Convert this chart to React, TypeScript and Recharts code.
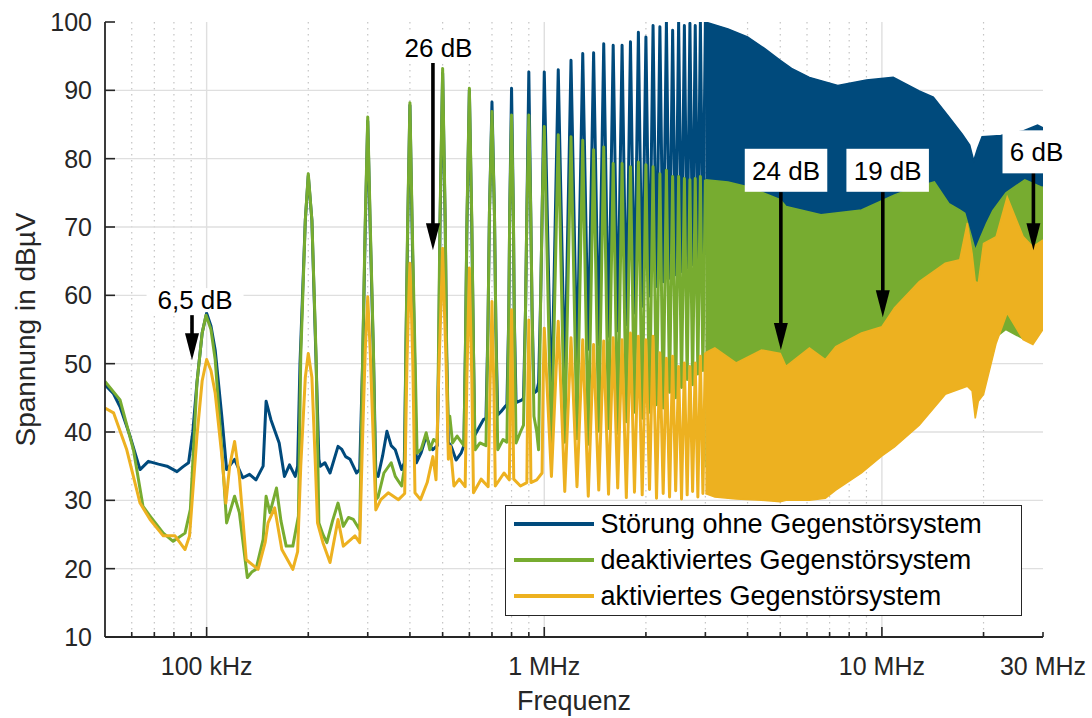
import React from 'react';
import {
  ComposedChart, Line, Area, XAxis, YAxis, CartesianGrid,
  ReferenceLine, ReferenceDot, Legend, Label,
} from 'recharts';

const FONT = '"Liberation Sans", Arial, Helvetica, sans-serif';
const INK = '#262626';

const SERIES_NAMES = [
  'Störung ohne Gegenstörsystem',
  'deaktiviertes Gegenstörsystem',
  'aktiviertes Gegenstörsystem',
];
const SERIES_COLORS = ['#004a7c', '#77ac30', '#edb120'];

// axes
const X_DOMAIN = [5e4, 3e7];
const X_TICKS = [6e4, 7e4, 8e4, 9e4, 1e5, 2e5, 3e5, 4e5, 5e5, 6e5, 7e5, 8e5, 9e5,
  1e6, 2e6, 3e6, 4e6, 5e6, 6e6, 7e6, 8e6, 9e6, 1e7, 2e7, 3e7];
const X_LABELED = [1e5, 1e6, 1e7, 3e7];
const X_LABELS = ['100 kHz', '1 MHz', '10 MHz', '30 MHz'];
const X_GRID_MAJOR = [1e5, 1e6, 1e7];
const X_GRID_MINOR = [6e4, 7e4, 8e4, 9e4, 2e5, 3e5, 4e5, 5e5, 6e5, 7e5, 8e5, 9e5,
  2e6, 3e6, 4e6, 5e6, 6e6, 7e6, 8e6, 9e6, 2e7];
const Y_DOMAIN = [10, 100];
const Y_TICKS = [10, 20, 30, 40, 50, 60, 70, 80, 90, 100];
const Y_GRID = [20, 30, 40, 50, 60, 70, 80, 90];

// 50 kHz .. 1 MHz, [kHz, dBµV]
const BLUE_LOW = [
  [50, 46.9], [53, 45.6], [55.4, 43.7], [59.3, 39.4], [63.5, 34.5], [67.2, 35.7], [72, 35.3],
  [76.3, 35.0], [81.7, 34.2], [85, 34.9], [88.4, 35.5], [91, 40], [93.6, 47.2], [97, 54.5],
  [100, 57.4], [103, 55.5], [106, 52.0], [110.9, 42.3], [114.6, 34.5], [121, 36.0], [128, 33.3],
  [134, 33.8], [140, 33.0], [147, 35.0], [150, 44.5], [155, 41.8], [164, 38.4], [170, 33.5],
  [176, 35.2], [183, 33.5], [186, 35], [189, 50], [196, 71], [200, 77.5], [205, 71], [211, 50],
  [215, 36], [217, 35.0], [224, 35.5], [232, 34.0], [245, 37.9], [251, 37.5], [258, 36.4],
  [266, 36.0], [278, 34.0], [284, 34.5], [290, 51], [295, 70], [300, 85.5], [305, 70], [312, 51],
  [317, 34], [322, 33.5], [332, 36.5], [342, 40.1], [352, 38.0], [362, 37.4], [378, 34.5],
  [385, 35.5], [389, 51], [394, 70], [400, 87.8], [406, 70], [413, 51], [418, 35.5], [432, 37.0],
  [447, 39.4], [458, 38.0], [467, 37.4], [482, 38], [487, 51], [491, 70], [500, 92.5], [509, 70],
  [514, 51], [520, 38.5], [530, 37.9], [548, 35.9], [567, 36.9], [578, 38], [584, 52], [590, 70],
  [600, 90.0], [610, 70], [617, 52], [622, 39.5], [635, 40.3], [660, 41.8], [672, 42], [681, 55],
  [688, 72], [700, 88.3], [712, 72], [719, 55], [728, 42.5], [745, 43.0], [768, 43.8], [775, 44],
  [785, 57], [790, 72], [800, 90.3], [810, 72], [815, 57], [825, 44.3], [860, 44.7], [868, 45],
  [880, 58], [888, 72], [900, 92.7], [912, 72], [920, 58], [932, 45.7], [950, 46], [962, 47.2],
  [976, 60], [987, 74], [1000, 92.7],
];
const GREEN_LOW = [
  [50, 47.4], [55.4, 44.7], [60.7, 37.4], [64.8, 29.1], [68, 27.7], [74.4, 25.2], [79.6, 24.0],
  [86.3, 25.2], [89.5, 28.7], [93.6, 47.2], [97, 54.5], [99.6, 57.1], [103, 55], [106, 50.6],
  [110.9, 37.4], [114.6, 26.7], [121, 30.6], [125, 28.2], [132, 18.7], [136, 19.5], [140, 19.9],
  [147, 24.3], [150, 30.6], [154, 28.2], [161, 31.8], [166, 27], [172, 23.3], [180, 23.3],
  [187, 27.7], [190, 51], [196, 71], [200, 77.8], [205, 71], [211, 51], [215, 26.7], [221, 25],
  [227, 23.8], [236, 27], [245, 29.6], [254, 26.2], [263, 27.5], [272, 27.2], [284, 25.7],
  [290, 51.6], [295, 71], [300, 86.1], [305, 71], [312, 51.6], [317, 30.1], [322, 30.5], [335, 34],
  [352, 35.5], [362, 33.5], [378, 32.1], [386, 35], [389, 51.6], [394, 71], [400, 88.2], [406, 71],
  [414, 51.6], [420, 36.9], [432, 37.5], [447, 39.9], [458, 37.4], [470, 38.9], [482, 38.5],
  [486, 51.6], [491, 71], [500, 93.2], [509, 71], [514, 51.6], [519, 42], [525, 42.3], [535, 38.4],
  [552, 39.4], [578, 38], [584, 52], [590, 71], [600, 90.3], [610, 71], [617, 52], [624, 37.4],
  [645, 38.4], [672, 38], [681, 55], [688, 72], [700, 86.9], [712, 72], [719, 55], [728, 37.4],
  [755, 38.9], [775, 38.5], [785, 57], [790, 72], [800, 86.4], [810, 72], [815, 57], [825, 38.4],
  [850, 40], [868, 41], [880, 58], [888, 72], [900, 86.4], [912, 72], [920, 58], [932, 42.3],
  [950, 40], [962, 37.4], [976, 60], [987, 74], [1000, 84.7],
];
const ORANGE_LOW = [
  [50, 43.5], [53, 42.8], [58, 37.4], [63.5, 29.6], [68, 27.2], [74.4, 24.8], [80.6, 24.8],
  [86.3, 22.8], [89, 24.8], [93.6, 39.4], [97, 47.5], [100, 50.6], [103, 49], [106, 45.7],
  [111, 36.4], [114, 29.6], [117, 35.0], [121, 38.6], [125, 33.5], [131, 21.3], [142, 19.9],
  [149, 23.8], [152, 26.7], [159, 28.9], [167, 22.8], [180, 19.9], [186, 22.5], [190, 35],
  [196, 48], [200, 51.5], [205, 48], [210, 35], [213, 26.7], [221, 23.8], [232, 20.9], [245, 27.2],
  [254, 23.3], [275, 24.8], [284, 23.8], [290, 40], [295, 52], [300, 59.8], [305, 52], [311, 40],
  [317, 28.6], [328, 30.1], [345, 31.1], [370, 30.1], [386, 31], [392, 50], [396, 58], [400, 64.7],
  [404, 58], [408, 50], [414, 31.1], [430, 30.1], [450, 32.6], [468, 36.4], [478, 33], [488, 50],
  [494, 58], [500, 66.9], [506, 58], [512, 50], [520, 36], [527, 37.9], [540, 32.1], [560, 33.1],
  [583, 32], [590, 48], [595, 56], [600, 64.0], [605, 56], [610, 48], [617, 31.1], [650, 33.1],
  [682, 32], [691, 47], [696, 53], [700, 59.1], [704, 53], [709, 47], [716, 32.1], [760, 34],
  [788, 33], [794, 47], [797, 52], [800, 57.9], [803, 52], [806, 47], [812, 33.1], [850, 32.1],
  [888, 32.6], [894, 47], [897, 51], [900, 56.4], [903, 51], [906, 47], [913, 32.6], [950, 33],
  [985, 34], [992, 47], [1000, 55.2],
];

// 1.05 .. 3 MHz: valleys between harmonics and harmonic peaks
const VALLEY_MHZ = [1.05, 1.15, 1.25, 1.35, 1.45, 1.55, 1.65, 1.75, 1.85, 1.95,
  2.05, 2.15, 2.25, 2.35, 2.45, 2.55, 2.65, 2.75, 2.85, 2.95];
const SPIKE_MHZ = [1.1, 1.2, 1.3, 1.4, 1.5, 1.6, 1.7, 1.8, 1.9, 2.0,
  2.1, 2.2, 2.3, 2.4, 2.5, 2.6, 2.7, 2.8, 2.9, 3.0];
const BLUE_VALLEYS = [43, 47.2, 49.6, 52.1, 52.8, 54.0, 54.8, 55.7, 57.4, 58.4,
  59.9, 61.3, 62.0, 62.5, 63.0, 63.5, 64.0, 64.5, 65.0, 66.0];
const BLUE_PEAKS = [93.0, 94.4, 95.4, 95.5, 96.8, 96.6, 96.6, 97.1, 98.5, 97.8,
  99.5, 99.3, 100, 98.8, 100, 99.5, 99.8, 99.5, 100, 100];
const GREEN_VALLEYS = [37.1, 38.5, 39.0, 38.2, 40.1, 40.5, 39.8, 41.5, 42.9, 42.0,
  42.9, 44.0, 43.5, 45.8, 45.0, 46.5, 47.7, 46.9, 48.5, 49.0];
const GREEN_PEAKS = [83.5, 83.2, 82.7, 81.3, 81.7, 79.3, 79.3, 78.8, 79.5, 79.1,
  78.8, 77.8, 78.3, 77.4, 77.4, 77.1, 76.9, 77.1, 77.4, 76.9];
const ORANGE_VALLEYS = [33.5, 31.3, 32.0, 30.6, 31.5, 30.9, 31.8, 30.4, 31.2, 30.8,
  31.6, 30.3, 31.0, 30.5, 31.4, 30.2, 30.8, 31.3, 30.5, 31.0];
const ORANGE_PEAKS = [56.2, 53.8, 53.5, 52.8, 53.3, 53.8, 53.5, 54.5, 54.0, 53.5,
  54.0, 51.6, 50.8, 51.1, 49.6, 50.1, 49.6, 50.1, 51.1, 51.6];

// 3 .. 30 MHz: the harmonics merge into a band, [low, high] envelope
const BLUE_BAND_MHZ = [3.0, 3.5, 4.0, 4.5, 5.0, 5.4, 6.1, 7.4, 9.0, 10.8, 12.9, 14.2, 15.8,
  17.3, 18.2, 18.7, 19.2, 19.8, 22.5, 26.3, 28.9, 30];
const BLUE_BAND_HIGH = [100, 99.0, 97.8, 96.1, 94.4, 93.2, 91.9, 90.7, 91.5, 91.9, 89.9, 89.0,
  86.1, 83.6, 82.0, 79.7, 81.5, 83.2, 83.4, 84.1, 84.9, 84.5];
const BLUE_BAND_LOW = [66, 65, 64, 63, 62, 62, 61, 61, 62, 63, 64, 64, 63, 62, 61, 60, 61, 62,
  63, 64, 64, 64];
const GREEN_BAND_MHZ = [3.0, 3.5, 4.0, 4.5, 5.0, 5.2, 6.6, 8.7, 10.9, 12.5, 14.3, 15.8, 17.0,
  17.6, 18.2, 18.9, 19.6, 20.4, 21.3, 23.3, 26.5, 29.5, 30];
const GREEN_BAND_HIGH = [76.9, 76.6, 75.9, 74.9, 74.0, 73.0, 71.8, 72.5, 74.7, 75.8, 76.6, 73.4,
  72.5, 72.0, 69.5, 66.6, 68.5, 70.5, 72.4, 75.0, 76.9, 75.9, 75.8];
const GREEN_BAND_LOW = [35, 34, 33.5, 33, 32.5, 32.5, 32.5, 35, 38.5, 41, 45.5, 47, 47.5, 47.5,
  48, 46, 47, 48, 53.5, 55, 53.5, 55, 55];
const ORANGE_BAND_MHZ = [3.0, 3.2, 3.7, 4.4, 5.0, 5.2, 6.1, 6.8, 7.3, 8.7, 10.0, 10.9, 12.9,
  15.4, 17.0, 17.9, 18.5, 18.9, 19.3, 20.0, 21.8, 23.5, 26.2, 28.0, 30];
const ORANGE_BAND_HIGH = [51.6, 52.3, 50.1, 52.0, 51.5, 49.6, 52.3, 50.6, 52.5, 54.5, 55.4, 58.2,
  62.0, 64.7, 65.2, 70.6, 66.1, 62.0, 61.8, 67.6, 68.6, 74.4, 68.6, 67.1, 68.1];
const ORANGE_BAND_LOW = [31, 30.5, 30.2, 30, 29.8, 30, 30, 30.3, 31.5, 34, 36.5, 37.8, 41, 45.5,
  46.3, 46.7, 46, 42, 44.5, 45.5, 53, 57.4, 53.5, 52.8, 55];

// annotations: arrows [Hz, from dB, to dB] and labels
const ARROW_F = [90500, 468000, 5.02e6, 1.006e7, 2.81e7];
const ARROW_FROM = [57.1, 94.0, 75.1, 75.1, 77.9];
const ARROW_TO = [50.5, 66.6, 52.0, 56.8, 66.6];
const NOTE_TEXT = ['6,5 dB', '26 dB', '24 dB', '19 dB', '6 dB'];
const NOTE_F = [92400, 486000, 5.2e6, 1.04e7, 2.87e7];
const NOTE_V = [59.3, 96.3, 78.3, 78.3, 81.0];
const NOTE_BOX_H = [24, 30, 43, 43, 43];

const buildLine = (low: number[][], valleys: number[], peaks: number[]) => {
  const pts = low.map(([k, v]) => ({ f: k * 1e3, v }));
  VALLEY_MHZ.forEach((m, i) => {
    pts.push({ f: m * 1e6, v: valleys[i] });
    pts.push({ f: SPIKE_MHZ[i] * 1e6, v: peaks[i] });
  });
  return pts;
};
const buildBand = (mhz: number[], low: number[], high: number[]) =>
  mhz.map((m, i) => ({ f: m * 1e6, v: [low[i], high[i]] }));

const LINES = [
  buildLine(BLUE_LOW, BLUE_VALLEYS, BLUE_PEAKS),
  buildLine(GREEN_LOW, GREEN_VALLEYS, GREEN_PEAKS),
  buildLine(ORANGE_LOW, ORANGE_VALLEYS, ORANGE_PEAKS),
];
const BANDS = [
  buildBand(BLUE_BAND_MHZ, BLUE_BAND_LOW, BLUE_BAND_HIGH),
  buildBand(GREEN_BAND_MHZ, GREEN_BAND_LOW, GREEN_BAND_HIGH),
  buildBand(ORANGE_BAND_MHZ, ORANGE_BAND_LOW, ORANGE_BAND_HIGH),
];

const XTick = (props: any) => {
  const { x, y, payload, top } = props;
  const value = payload.value;
  const len = X_GRID_MAJOR.includes(value) ? 10 : 5;
  const idx = X_LABELED.indexOf(value);
  return (
    <g>
      <line x1={x} y1={y} x2={x} y2={top ? y + len : y - len} stroke={INK} strokeWidth={1.6} />
      {!top && idx >= 0 && (
        <text x={x} y={y + 38} textAnchor="middle" fontSize={25} fontFamily={FONT} fill={INK}>
          {X_LABELS[idx]}
        </text>
      )}
    </g>
  );
};

const YTick = (props: any) => {
  const { x, y, payload, right } = props;
  return (
    <g>
      <line x1={x} y1={y} x2={right ? x - 10 : x + 10} y2={y} stroke={INK} strokeWidth={1.6} />
      {!right && (
        <text x={x - 13} y={y} dy="0.355em" textAnchor="end" fontSize={25} fontFamily={FONT} fill={INK}>
          {payload.value}
        </text>
      )}
    </g>
  );
};

const XLabel = (props: any) => {
  const { viewBox } = props;
  return (
    <text x={viewBox.x + viewBox.width / 2} y={viewBox.y + 73} textAnchor="middle"
      fontSize={27} fontFamily={FONT} fill={INK}>Frequenz</text>
  );
};

const YLabel = (props: any) => {
  const { viewBox } = props;
  const cx = viewBox.x + 25;
  const cy = viewBox.y + viewBox.height / 2;
  return (
    <text x={cx} y={cy} dy="0.355em" transform={`rotate(-90 ${cx} ${cy})`} textAnchor="middle"
      fontSize={28} fontFamily={FONT} fill={INK}>Spannung in dBµV</text>
  );
};

const Arrow = (props: any) => {
  const { x1, y1, x2, y2 } = props;
  const headLen = 27;
  const headHalf = 7;
  return (
    <g>
      <line x1={x1} y1={y1} x2={x2} y2={y2 - headLen + 1} stroke="#000" strokeWidth={3.6} />
      <polygon points={`${x2 - headHalf},${y2 - headLen} ${x2 + headHalf},${y2 - headLen} ${x2},${y2}`} fill="#000" />
    </g>
  );
};

const noteShape = (i: number) => (props: any) => {
  const { cx, cy } = props;
  const w = NOTE_TEXT[i].length * 14.5 + 10;
  const h = NOTE_BOX_H[i];
  return (
    <g>
      <rect x={cx - w / 2} y={cy - h / 2} width={w} height={h} fill="#fff" />
      <text x={cx} y={cy} dy="0.355em" textAnchor="middle" fontSize={26} fontFamily={FONT} fill="#000">
        {NOTE_TEXT[i]}
      </text>
    </g>
  );
};

const LegendBox = () => (
  <div style={{
    width: 517, height: 111, boxSizing: 'border-box', border: `1.5px solid ${INK}`,
    background: '#fff', fontFamily: FONT,
  }}>
    {SERIES_NAMES.map((name, i) => (
      <div key={name} style={{ display: 'flex', alignItems: 'center', height: 36 }}>
        <div style={{ width: 80, height: 3.5, background: SERIES_COLORS[i], marginLeft: 7.5, marginRight: 7 }} />
        <span style={{ fontSize: 27, color: '#000', lineHeight: '36px', whiteSpace: 'nowrap' }}>{name}</span>
      </div>
    ))}
  </div>
);

const axisLine = { stroke: INK, strokeWidth: 1.8 };

export default function App() {
  return (
    <div style={{ position: 'absolute', left: 0, top: 0, width: 1092, height: 718, background: '#fff' }}>
      <ComposedChart width={1092} height={718} margin={{ top: 22, right: 49, bottom: 0, left: 0 }}>
        <CartesianGrid horizontal={false} verticalValues={X_GRID_MINOR}
          stroke="#c4c4c4" strokeDasharray="1.5 4.5" strokeWidth={1.2} />
        <CartesianGrid verticalValues={X_GRID_MAJOR} horizontalValues={Y_GRID}
          stroke="#dfdfdf" strokeWidth={1.4} />

        <XAxis dataKey="f" type="number" scale="log" domain={X_DOMAIN} allowDataOverflow
          ticks={X_TICKS} interval={0} height={81} tickLine={false} tickSize={0} tickMargin={0}
          tick={(p: any) => <XTick {...p} />} axisLine={axisLine}
          label={<Label content={XLabel} />} />
        <XAxis xAxisId="top" orientation="top" dataKey="f" type="number" scale="log"
          domain={X_DOMAIN} allowDataOverflow ticks={X_TICKS} interval={0} height={0}
          tickLine={false} tickSize={0} tickMargin={0}
          tick={(p: any) => <XTick {...p} top />} axisLine={axisLine} />
        <YAxis type="number" domain={Y_DOMAIN} allowDataOverflow ticks={Y_TICKS} interval={0}
          width={105} tickLine={false} tickSize={0} tickMargin={0}
          tick={(p: any) => <YTick {...p} />} axisLine={axisLine}
          label={<Label content={YLabel} />} />
        <YAxis yAxisId="right" orientation="right" type="number" domain={Y_DOMAIN} allowDataOverflow
          ticks={Y_TICKS} interval={0} width={0} tickLine={false} tickSize={0} tickMargin={0}
          tick={(p: any) => <YTick {...p} right />} axisLine={axisLine} />

        {SERIES_NAMES.map((name, i) => [
          <Area key={`band-${i}`} data={BANDS[i]} dataKey="v" type="linear"
            stroke={SERIES_COLORS[i]} strokeWidth={1.5} fill={SERIES_COLORS[i]} fillOpacity={1}
            isAnimationActive={false} dot={false} activeDot={false} legendType="none" />,
          <Line key={`line-${i}`} data={LINES[i]} dataKey="v" name={name} type="linear"
            stroke={SERIES_COLORS[i]} strokeWidth={3} strokeLinejoin="round" dot={false}
            activeDot={false} isAnimationActive={false} />,
        ])}

        {NOTE_TEXT.map((t, i) => (
          <ReferenceDot key={`note-${i}`} x={NOTE_F[i]} y={NOTE_V[i]} ifOverflow="visible"
            shape={noteShape(i)} />
        ))}
        {ARROW_F.map((f, i) => (
          <ReferenceLine key={`arrow-${i}`} ifOverflow="visible"
            segment={[{ x: f, y: ARROW_FROM[i] }, { x: f, y: ARROW_TO[i] }]} shape={Arrow} />
        ))}

        <Legend content={() => <LegendBox />} layout="horizontal" verticalAlign="middle" align="center"
          wrapperStyle={{ left: 505, top: 505, width: 517, height: 111 }} />
      </ComposedChart>
    </div>
  );
}
